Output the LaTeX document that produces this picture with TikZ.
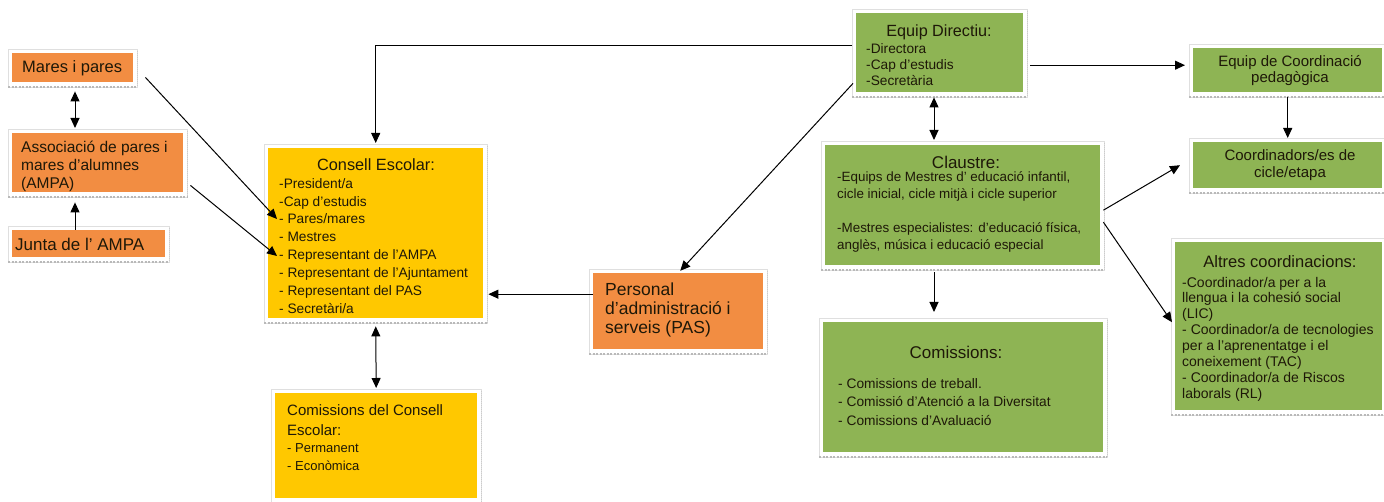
\documentclass[tikz,border=0pt]{standalone}
\usepackage{fontspec}
\setmainfont{Liberation Sans}
\usetikzlibrary{arrows.meta,calc}
\definecolor{orangebox}{RGB}{242,141,66}
\definecolor{yellowbox}{RGB}{255,200,0}
\definecolor{greenbox}{RGB}{142,180,84}
\definecolor{txt}{RGB}{30,24,8}
\newcommand{\fs}[2]{\fontsize{#1}{#2}\selectfont}
\newcommand{\mybox}[6]{%
 \draw[gray!25, line width=0.6pt] ({#2-4},{#3-4}) rectangle ({#4+4},{#5+5});
 \draw[gray!55, dash pattern=on 2pt off 1.5pt, line width=1.2pt] ({#2-4},{#5+5}) -- ({#4+4},{#5+5});
 \draw[gray!40, dash pattern=on 1pt off 1pt, line width=0.6pt] ({#4+4},{#3-2}) -- ({#4+4},{#5+5});
 \node[fill=#6, draw=none, inner sep=0, anchor=north west, minimum width={#4pt-#2pt}, minimum height={#5pt-#3pt}] (#1) at (#2,#3) {};
}
\tikzset{
 arr/.style={-{Triangle[length=10pt,width=9pt]}, line width=1pt, black},
 darr/.style={{Triangle[length=10pt,width=9pt]}-{Triangle[length=10pt,width=9pt]}, line width=1pt, black},
 t/.style={inner sep=0, text=txt, align=left}
}
\begin{document}
\begin{tikzpicture}[x=1pt,y=-1pt]
\useasboundingbox (0,0) rectangle (1384,502);
\fill[white] (0,0) rectangle (1384,502);

% boxes
\mybox{mares}{12}{53}{133}{82}{orangebox}
\mybox{ampa}{12}{133}{183}{192}{orangebox}
\mybox{junta}{12}{230}{165}{257}{orangebox}
\mybox{consell}{268}{148}{483}{318}{yellowbox}
\mybox{comcons}{275}{393}{477}{498}{yellowbox}
\mybox{pas}{593}{273}{763}{349}{orangebox}
\mybox{directiu}{856}{13}{1023}{92}{greenbox}
\mybox{coordped}{1193}{48}{1382}{92}{greenbox}
\mybox{cicle}{1193}{142}{1382}{188}{greenbox}
\mybox{claustre}{825}{145}{1100}{265}{greenbox}
\mybox{comissions}{823}{322}{1103}{452}{greenbox}
\mybox{altres}{1175}{242}{1382}{410}{greenbox}

% texts
\node[t, anchor=west, font=\fs{16.5}{18}] (tmares) at (22,68) {Mares i pares};
\node[t, anchor=north west, font=\fs{15.5}{18}] (tampa) at (21,141) {Associació de pares i\\mares d'alumnes\\(AMPA)};
\node[t, anchor=west, font=\fs{17}{19}] (tjunta) at (15,244) {Junta de l' AMPA};
\node[t, anchor=center, font=\fs{16.3}{18}] (tcons) at (376,165) {Consell Escolar:};
\node[t, anchor=north west, font=\fs{13.7}{17.9}] (tconsi) at (279,178) {-President/a\\-Cap d'estudis\\- Pares/mares\\- Mestres\\- Representant de l'AMPA\\- Representant de l'Ajuntament\\- Representant del PAS\\- Secretàri/a};
\node[t, anchor=north west, font=\fs{15}{20}] (tcc) at (287,404) {Comissions del Consell\\Escolar:};
\node[t, anchor=north west, font=\fs{13}{18}] (tcci) at (287,443) {- Permanent\\- Econòmica};
\node[t, anchor=north west, font=\fs{17.5}{19}] (tpas) at (605,283) {Personal\\d'administració i\\serveis (PAS)};
\node[t, anchor=center, font=\fs{16.2}{18}] (tdir) at (939,32) {Equip Directiu:};
\node[t, anchor=north west, font=\fs{13.7}{16}] (tdiri) at (866,43) {-Directora\\-Cap d'estudis\\-Secretària};
\node[t, align=center, font=\fs{15}{15.5}] (tcp) at (1290,70.5) {Equip de Coordinació\\pedagògica};
\node[t, align=center, font=\fs{15}{17}] (tcic) at (1290,165.5) {Coordinadors/es de\\cicle/etapa};
\node[t, anchor=center, font=\fs{17}{19}] (tcla) at (966,162) {Claustre:};
\node[t, anchor=north west, font=\fs{13.4}{17}] (tclai) at (837,171) {-Equips de Mestres d' educació infantil,\\cicle inicial, cicle mitjà i cicle superior\\[17pt]-Mestres especialistes: d'educació física,\\anglès, música i educació especial};
\node[t, anchor=center, font=\fs{17}{19}] (tcom) at (956,352) {Comissions:};
\node[t, anchor=north west, font=\fs{13.75}{18.5}] (tcomi) at (838,378) {- Comissions de treball.\\- Comissió d'Atenció a la Diversitat\\- Comissions d'Avaluació};
\node[t, anchor=center, font=\fs{16.5}{18}] (talt) at (1280,262) {Altres coordinacions:};
\node[t, anchor=north west, font=\fs{14}{15.9}] (talti) at (1182,276.7) {-Coordinador/a per a la\\llengua i la cohesió social\\(LIC)\\- Coordinador/a de tecnologies\\per a l'aprenentatge i el\\coneixement (TAC)\\- Coordinador/a de Riscos\\laborals (RL)};

% connectors
\coordinate (cx1) at (75,0);
\coordinate (cx2) at (934,0);
\draw[darr, shorten <=9pt, shorten >=5pt] (mares.south -| cx1) -- (ampa.north -| cx1);
\draw[arr, shorten >=10pt] (junta.north -| cx1) -- (ampa.south -| cx1);
\draw[arr] ([xshift=12pt,yshift=5pt]mares.south east) -- ([xshift=9pt,yshift=-71pt]consell.north west);
\draw[arr] ([xshift=7pt,yshift=7pt]ampa.south east) -- ([xshift=9pt,yshift=-108pt]consell.north west);
\draw[arr, shorten >=5pt] ([xshift=-4pt,yshift=7.5pt]directiu.west) -| (consell.north);
\draw[arr, shorten >=3pt] ([xshift=-3pt,yshift=9pt]directiu.south west) -- (pas.north);
\draw[arr, shorten >=5pt] ([yshift=17pt]pas.west) -- ([yshift=17pt]pas.west -| consell.east);
\draw[darr, shorten <=8pt, shorten >=5pt] (consell.south) -- (comcons.north);
\draw[arr, shorten >=8pt] ([xshift=7pt,yshift=-12.5pt]directiu.east) -- ([yshift=-12.5pt]directiu.east -| coordped.west);
\draw[darr, shorten <=5pt, shorten >=5pt] (directiu.south -| cx2) -- (claustre.north -| cx2);
\draw[arr, shorten <=5pt, shorten >=4pt] (coordped.south) -- (cicle.north);
\draw[arr] ([xshift=3pt,yshift=-5pt]claustre.east) -- ([xshift=-13pt]cicle.west);
\draw[arr] ([xshift=3pt,yshift=-17pt]claustre.east) -- ([xshift=-3pt,yshift=4pt]altres.west);
\draw[arr, shorten <=7pt, shorten >=10pt] (claustre.south -| cx2) -- (comissions.north -| cx2);
\end{tikzpicture}
\end{document}
